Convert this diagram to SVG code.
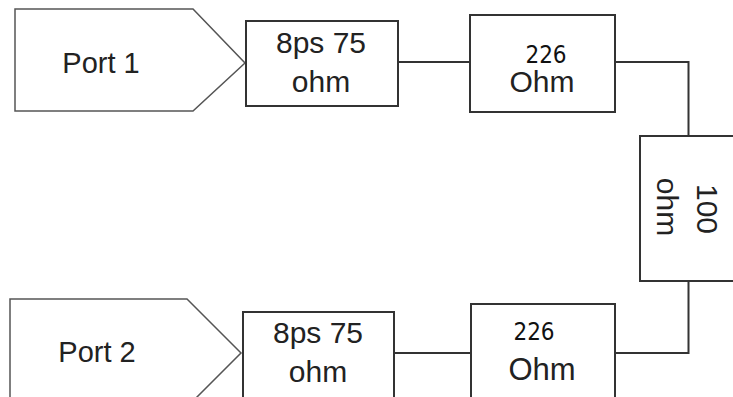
<svg xmlns="http://www.w3.org/2000/svg" width="733" height="397" viewBox="0 0 733 397">
<style>
.port{fill:#fff;stroke:#555;stroke-width:1.5}
.box{fill:#fff;stroke:#333;stroke-width:2}
.wire{fill:none;stroke:#333;stroke-width:2}
.t{font-family:"Liberation Sans",Arial,sans-serif;fill:#222;text-anchor:middle}
.n{font-family:"DejaVu Sans Condensed","DejaVu Sans",sans-serif;fill:#111;text-anchor:middle}
</style>
<rect width="733" height="397" fill="#fff"/>
<g id="connectors">
<path class="wire" d="M398 62H470"/>
<path class="wire" d="M615 62H688.5V136"/>
<path class="wire" d="M394 353H470"/>
<path class="wire" d="M615 353H688.5V281"/>
</g>
<g id="port1">
<polygon class="port" points="15,9 193,9 245,63 193,111 15,111"/>
<text class="t" x="101" y="73" font-size="29">Port 1</text>
</g>
<g id="line1">
<rect class="box" x="246" y="21" width="152" height="85"/>
<text class="t" x="321" y="53" font-size="30">8ps 75</text>
<text class="t" x="321" y="92" font-size="30">ohm</text>
</g>
<g id="res1">
<rect class="box" x="470" y="15" width="145" height="97"/>
<text class="n" x="546" y="63" font-size="24">226</text>
<text class="t" x="542" y="92" font-size="30">Ohm</text>
</g>
<g id="res100">
<rect class="box" x="640" y="136" width="97" height="145"/>
<text class="t" font-size="30" transform="translate(697,209) rotate(90)">100</text>
<text class="t" font-size="30" transform="translate(657,207) rotate(90)">ohm</text>
</g>
<g id="port2">
<polygon class="port" points="10,299 187,299 241,353 187,407 10,407"/>
<text class="t" x="97" y="362" font-size="29">Port 2</text>
</g>
<g id="line2">
<rect class="box" x="243" y="312" width="151" height="100"/>
<text class="t" x="318" y="343" font-size="30">8ps 75</text>
<text class="t" x="318" y="382" font-size="30">ohm</text>
</g>
<g id="res2">
<rect class="box" x="471" y="304" width="144" height="110"/>
<text class="n" x="534" y="340" font-size="24">226</text>
<text class="t" x="542" y="380" font-size="31">Ohm</text>
</g>
</svg>
